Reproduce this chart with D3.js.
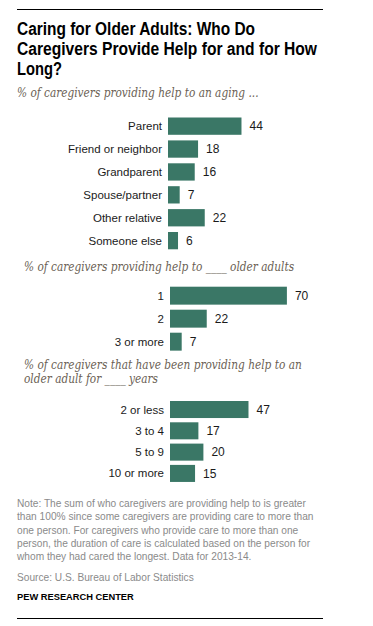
<!DOCTYPE html>
<html>
<head>
<meta charset="utf-8">
<script src="https://cdn.jsdelivr.net/npm/d3@7"></script>
<style>
  body { margin: 0; background: #fff; }
  svg { display: block; }
  .title { font-family: "Liberation Sans", Arial, sans-serif; font-weight: bold; font-size: 18px; fill: #000; }
  .sub { font-family: "DejaVu Serif", Georgia, serif; font-style: italic; font-size: 12.5px; fill: #6b5f55; }
  .cat { font-family: "Liberation Sans", Arial, sans-serif; font-size: 11.5px; fill: #1a1a1a; }
  .val { font-family: "Liberation Sans", Arial, sans-serif; font-size: 12px; fill: #1a1a1a; }
  .note { font-family: "Liberation Sans", Arial, sans-serif; font-size: 11px; fill: #8a8a8a; }
  .pew { font-family: "Liberation Sans", Arial, sans-serif; font-weight: bold; font-size: 9.3px; fill: #000; }
</style>
</head>
<body>
<div id="chart"></div>
<script>
// data
const whoCats = ['Parent', 'Friend or neighbor', 'Grandparent', 'Spouse/partner', 'Other relative', 'Someone else'];
const whoVals = [44, 18, 16, 7, 22, 6];

const howManyCats = ['1', '2', '3 or more'];
const howManyVals = [70, 22, 7];

const howLongCats = ['2 or less', '3 to 4', '5 to 9', '10 or more'];
const howLongVals = [47, 17, 20, 15];

const titleLines = ['Caring for Older Adults: Who Do', 'Caregivers Provide Help for and for How', 'Long?'];
const titleWidths = [238, 300, 45];
const noteLines = [
  'Note: The sum of who caregivers are providing help to is greater',
  'than 100% since some caregivers are providing care to more than',
  'one person. For caregivers who provide care to more than one',
  'person, the duration of care is calculated based on the person for',
  'whom they had cared the longest. Data for 2013-14.'
];

let width = 373, height = 626;
let barColor = '#3a7766';
let subSquash = 0.845, noteSquash = 0.925;

let svg = d3.select('#chart').append('svg')
  .attr('width', width)
  .attr('height', height);

// rules
svg.append('line').attr('x1', 17).attr('x2', 323).attr('y1', 9.5).attr('y2', 9.5)
  .attr('stroke', '#000').attr('stroke-width', 1);
svg.append('line').attr('x1', 17).attr('x2', 323).attr('y1', 618.5).attr('y2', 618.5)
  .attr('stroke', '#000').attr('stroke-width', 1);

// title
svg.append('g').selectAll('text').data(titleLines).enter().append('text')
  .attr('class', 'title')
  .attr('x', 17).attr('y', (d, i) => 35 + i * 20)
  .attr('textLength', (d, i) => titleWidths[i])
  .attr('lengthAdjust', 'spacingAndGlyphs')
  .text(d => d);

// squashed multi-line text (stands in for the narrow house fonts)
function block(cls, lines, x0, y0, lh, squash) {
  svg.append('text').attr('class', cls)
    .attr('transform', 'translate(' + x0 + ',' + y0 + ') scale(' + squash + ',1)')
    .selectAll('tspan').data(lines).enter().append('tspan')
    .attr('x', 0).attr('y', (d, i) => i * lh)
    .text(d => d);
}

let x = d3.scaleLinear().domain([0, 100]).range([0, 167]);

function section(cats, vals, x0, y0, step, pad, labelX) {
  let y = d3.scaleBand().domain(cats)
    .range([y0, y0 + step * (cats.length - pad)])
    .paddingInner(pad).paddingOuter(0);

  let g = svg.append('g');
  let rows = g.selectAll('.row').data(cats).enter().append('g').attr('class', 'row');

  rows.append('rect')
    .attr('x', x0)
    .attr('y', d => y(d))
    .attr('width', (d, i) => x(vals[i]))
    .attr('height', y.bandwidth())
    .attr('fill', barColor);

  rows.append('text').attr('class', 'cat')
    .attr('x', labelX)
    .attr('y', d => y(d) + y.bandwidth() / 2)
    .attr('dy', '0.35em')
    .attr('text-anchor', 'end')
    .text(d => d);

  rows.append('text').attr('class', 'val')
    .attr('x', (d, i) => x0 + x(vals[i]) + 8)
    .attr('y', d => y(d) + y.bandwidth() / 2)
    .attr('dy', '0.35em')
    .text((d, i) => vals[i]);
}

// section 1
block('sub', ['% of caregivers providing help to an aging ...'], 17, 97, 0, subSquash);
section(whoCats, whoVals, 168, 117.5, 22.9, 0.245, 162);

// section 2
block('sub', ['% of caregivers providing help to ____ older adults'], 24, 270.5, 0, subSquash);
section(howManyCats, howManyVals, 170, 286.7, 23, 0.22, 164);

// section 3
block('sub', ['% of caregivers that have been providing help to an', 'older adult for ____ years'], 24, 369, 14.5, subSquash);
section(howLongCats, howLongVals, 170, 401, 21.3, 0.2, 164);

// note / source
block('note', noteLines, 17, 507, 13.3, noteSquash);
block('note', ['Source: U.S. Bureau of Labor Statistics'], 17, 580.5, 0, noteSquash);

svg.append('text').attr('class', 'pew').attr('x', 17).attr('y', 600)
  .text('PEW RESEARCH CENTER');
</script>
</body>
</html>
